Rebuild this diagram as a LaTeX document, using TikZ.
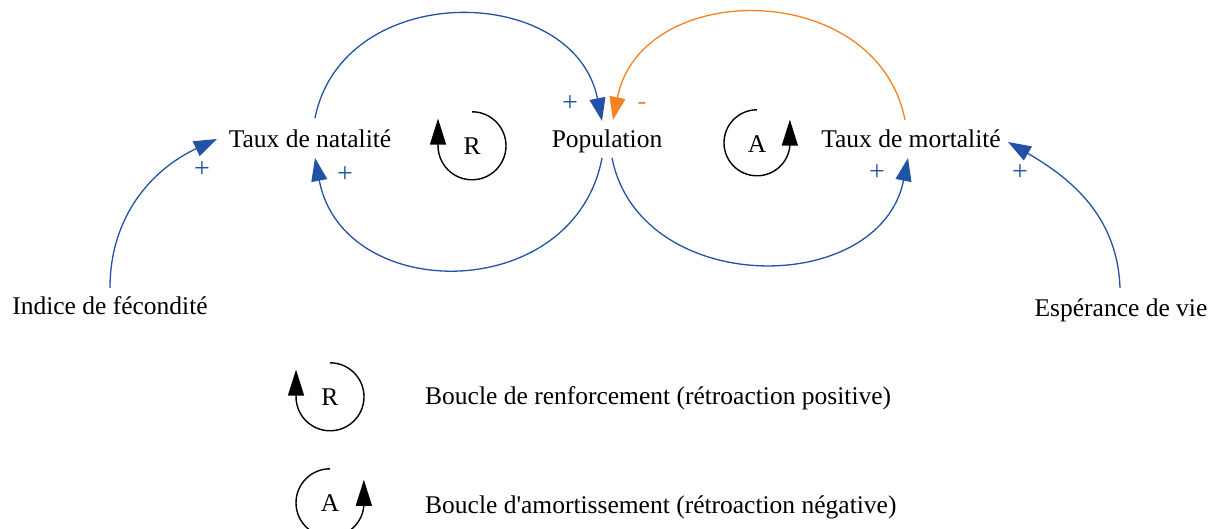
\documentclass[tikz,border=0pt]{standalone}
\usepackage{fontspec}
\setmainfont{Liberation Serif}
\usetikzlibrary{arrows.meta,positioning}

\definecolor{linkblue}{RGB}{33,82,165}
\definecolor{linkorange}{RGB}{245,130,32}

\begin{document}
\begin{tikzpicture}[
    x=1pt, y=1pt,
    >={Triangle[length=23pt,width=16pt]},
    var/.style={anchor=base, inner sep=0pt, font=\fontsize{25.5}{30}\selectfont},
    link/.style={draw=linkblue, line width=1.3pt, ->},
    neglink/.style={draw=linkorange, line width=1.3pt, ->},
    sign/.style={inner sep=0pt, text=linkblue, font=\fontsize{28}{32}\selectfont},
    negsign/.style={inner sep=0pt, text=linkorange, font=\fontsize{26}{30}\selectfont},
    loopsym/.style={circle, minimum size=68pt, inner sep=0pt, font=\fontsize{25.5}{30}\selectfont},
    loopline/.style={draw=black, line width=1.4pt, -{Triangle[length=26pt,width=16pt]}}
]
    \useasboundingbox (0,0) rectangle (1221,529);

    % variables
    \node[var] (nat)  at (310,381)  {Taux de natalité};
    \node[var] (pop)  at (607,381)  {Population};
    \node[var] (mort) at (911,381)  {Taux de mortalité};
    \node[var] (fec)  at (110,214)  {Indice de fécondité};
    \node[var] (esp)  at (1121,212) {Espérance de vie};

    % loops R and A
    \node[loopsym] (loopR) at (472,383) {R};
    \node[loopsym] (loopA) at (757,385) {A};
    \draw[loopline] (loopR.north) arc[start angle=90, end angle=-182, radius=34] -- ++(0,26);
    \draw[loopline] (loopA.north) arc[start angle=90, end angle=355, radius=33] -- ++(0,26);

    % causal links
    \draw[link] ([xshift=5pt,yshift=30pt]nat.base)
        .. controls +(28,139) and +(-28,139) .. ([xshift=-5pt,yshift=27pt]pop.base);
    \draw[link] ([xshift=-5pt,yshift=-10pt]pop.base)
        .. controls +(-28,-147) and +(28,-147) .. ([xshift=5pt,yshift=-10pt]nat.base);
    \draw[neglink] ([xshift=-6pt,yshift=28pt]mort.base)
        .. controls +(-28,142) and +(28,142) .. ([xshift=6pt,yshift=28pt]pop.base);
    \draw[link] ([xshift=5pt,yshift=-10pt]pop.base)
        .. controls +(28,-140) and +(-28,-140) .. ([xshift=-3pt,yshift=-10pt]mort.base);

    \draw[link] ([yshift=27pt]fec.base) to[out=90, in=205] ([xshift=-93pt,yshift=9pt]nat.base);
    \draw[link] ([xshift=-1pt,yshift=29pt]esp.base) to[out=92, in=-30] ([xshift=97pt,yshift=6pt]mort.base);

    % polarities
    \node[sign]    (s1) at (570,425)  {+};
    \node[sign]    (s2) at (345,354)  {+};
    \node[sign]    (s3) at (202,359)  {+};
    \node[negsign] (s4) at (642,423)  {-};
    \node[sign]    (s5) at (877,356)  {+};
    \node[sign]    (s6) at (1020,356) {+};

    % legend
    \node[loopsym] (keyR) at (330,132) {R};
    \node[loopsym] (keyA) at (330,26)  {A};
    \draw[loopline] (keyR.north) arc[start angle=90, end angle=-182, radius=34] -- ++(0,26);
    \draw[loopline] (keyA.north) arc[start angle=90, end angle=355, radius=34] -- ++(0,26);
    \node[var, anchor=base west] (keyRtxt) at (425,124) {Boucle de renforcement (rétroaction positive)};
    \node[var, anchor=base west] (keyAtxt) at (425,15)  {Boucle d\textquotesingle amortissement (rétroaction négative)};
\end{tikzpicture}
\end{document}
